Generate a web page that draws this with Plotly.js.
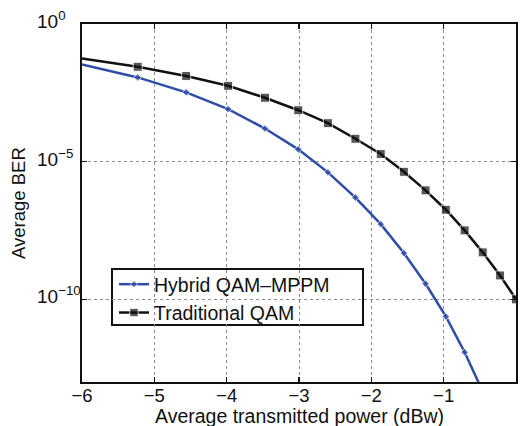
<!DOCTYPE html>
<html>
<head>
<meta charset="utf-8">
<script src="https://cdn.plot.ly/plotly-3.0.1.min.js"></script>
<style>html,body{margin:0;padding:0;background:#fff;}#chart{width:521px;height:426px;}</style>
</head>
<body>
<div id="chart"></div>
<script>
// Average transmitted power (dBW)
const powerDbw = [-6, -5.23, -4.56, -3.98, -3.47, -3.01, -2.60, -2.22, -1.87, -1.55, -1.25, -0.97, -0.71, -0.46, -0.22, 0];
// Average BER, Traditional QAM
const berTraditional = [5.6e-2, 2.8e-2, 1.3e-2, 5.7e-3, 2.1e-3, 7.4e-4, 2.5e-4, 6.8e-5, 1.9e-5, 4.3e-6, 9.1e-7, 1.8e-7, 3.2e-8, 5.1e-9, 7.4e-10, 1.0e-10];
// Average BER, Hybrid QAM-MPPM
const berHybrid = [3.4e-2, 1.15e-2, 3.3e-3, 8.1e-4, 1.6e-4, 2.8e-5, 4.1e-6, 5.0e-7, 5.4e-8, 4.8e-9, 3.7e-10, 2.4e-11, 1.2e-12, 4.5e-14];
const seriesNames = ['Hybrid QAM\u2013MPPM', 'Traditional QAM'];
const xTicks = [-6, -5, -4, -3, -2, -1, 0];
const xTickText = ['\u22126', '\u22125', '\u22124', '\u22123', '\u22122', '\u22121', '0'];
const yTicks = [1e-10, 1e-5, 1];
const yTickText = ['10<sup>\u221210</sup>', '10<sup>\u22125</sup>', '10<sup>0</sup>'];
const xTitle = 'Average transmitted power (dBw)';
const yTitle = 'Average BER';

const FONT = 'Liberation Sans, Arial, Helvetica, sans-serif';
const INK = '#111111';

function sizes(n, s) { return Array.from({length: n}, (_, i) => i === 0 ? 0 : s); }

const traces = [
  {
    x: powerDbw.slice(0, berHybrid.length), y: berHybrid, name: seriesNames[0],
    type: 'scatter', mode: 'lines+markers',
    line: {color: '#2f4da8', width: 2.5},
    marker: {symbol: 'diamond', size: sizes(berHybrid.length, 6), color: '#2f4da8'}
  },
  {
    x: powerDbw, y: berTraditional, name: seriesNames[1],
    type: 'scatter', mode: 'lines+markers',
    line: {color: INK, width: 2.5},
    marker: {symbol: 'square', size: sizes(berTraditional.length, 9), color: INK}
  }
];

// y tick labels: base "10" aligned left like the original figure
const annotations = yTicks.map((v, i) => ({
  xref: 'paper', yref: 'y', x: -0.108, y: Math.log10(v),
  xanchor: 'left', yanchor: 'middle', yshift: 4,
  text: yTickText[i], showarrow: false,
  font: {family: FONT, size: 19, color: INK}
}));
annotations.push({
  xref: 'paper', yref: 'paper', x: 0.5, y: -0.094, xanchor: 'center', yanchor: 'middle',
  text: xTitle, showarrow: false, font: {family: FONT, size: 19.5, color: INK}
});
annotations.push({
  xref: 'paper', yref: 'paper', x: -0.1475, y: 0.5, xanchor: 'center', yanchor: 'middle',
  textangle: -90, text: yTitle, showarrow: false, font: {family: FONT, size: 18.5, color: INK}
});

const layout = {
  width: 521, height: 426,
  margin: {l: 82, r: 5, t: 24, b: 44, pad: 0},
  paper_bgcolor: '#fff', plot_bgcolor: '#fff',
  font: {family: FONT, size: 19, color: INK},
  showlegend: true,
  legend: {
    x: 0.0737, y: 0.3268, xanchor: 'left', yanchor: 'top',
    bgcolor: 'rgba(0,0,0,0)', borderwidth: 0,
    font: {family: FONT, size: 19.5, color: INK},
    tracegroupgap: 0
  },
  shapes: [{
    type: 'rect', xref: 'paper', yref: 'paper', layer: 'between',
    x0: 0.0691, x1: 0.6475, y0: 0.1592, y1: 0.3156,
    fillcolor: '#ffffff', line: {color: INK, width: 2}
  }],
  annotations: annotations,
  xaxis: {
    range: [-6, 0], tickvals: xTicks, ticktext: xTickText,
    ticks: 'inside', ticklen: 5, tickwidth: 1.5, tickcolor: INK,
    ticklabelstandoff: -4,
    showline: true, linecolor: INK, linewidth: 2, mirror: 'allticks',
    showgrid: true, gridcolor: '#8a8a8a', gridwidth: 1, griddash: 'dot',
    zeroline: false,
    tickfont: {family: FONT, size: 18.5, color: INK}
  },
  yaxis: {
    type: 'log', range: [-13, 0], tickvals: yTicks, showticklabels: false,
    ticks: 'inside', ticklen: 5, tickwidth: 1.5, tickcolor: INK,
    showline: true, linecolor: INK, linewidth: 2, mirror: 'allticks',
    showgrid: true, gridcolor: '#8a8a8a', gridwidth: 1, griddash: 'dot',
    zeroline: false
  }
};

Plotly.newPlot('chart', traces, layout, {displayModeBar: false, staticPlot: true});
</script>
</body>
</html>
